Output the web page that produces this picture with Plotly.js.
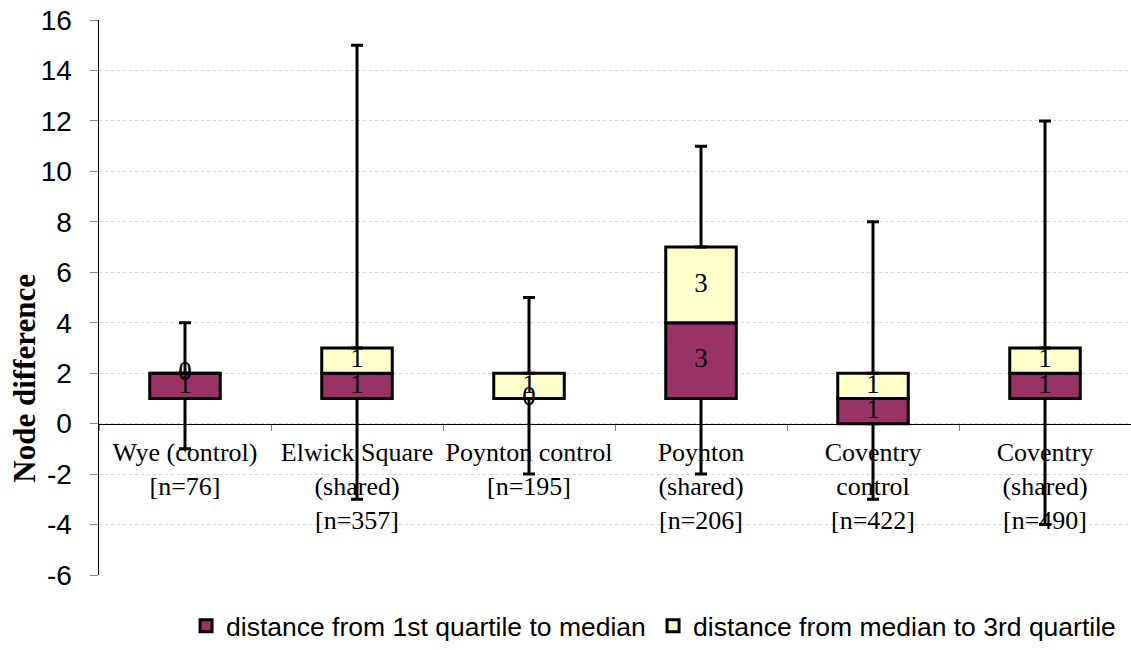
<!DOCTYPE html>
<html>
<head>
<meta charset="utf-8">
<script src="https://cdn.plot.ly/plotly-3.0.1.min.js"></script>
<style>
html,body{margin:0;padding:0;background:#fff;}
#chart{width:1131px;height:650px;}
</style>
</head>
<body>
<div id="chart"></div>
<script>
// Category tick labels
const categories = [
  "Wye (control)<br>[n=76]",
  "Elwick Square<br>(shared)<br>[n=357]",
  "Poynton control<br>[n=195]",
  "Poynton<br>(shared)<br>[n=206]",
  "Coventry<br>control<br>[n=422]",
  "Coventry<br>(shared)<br>[n=490]"
];
// Five-number summaries
const minimum  = [-1, -3, -2, -2, -3, -4];
const quartile1 = [1, 1, 1, 1, 0, 1];
const median   = [2, 2, 1, 4, 1, 2];
const quartile3 = [2, 3, 2, 7, 2, 3];
const maximum  = [4, 15, 5, 11, 8, 12];

// Y-axis tick values and labels (hyphen minus as in the original)
const yTickValues = [-6, -4, -2, 0, 2, 4, 6, 8, 10, 12, 14, 16];
const yTickLabels = ["-6", "-4", "-2", "0", "2", "4", "6", "8", "10", "12", "14", "16"];

const seriesNames = ["distance from 1st quartile to median", "distance from median to 3rd quartile"];

const lowerSpan = median.map((m, i) => m - quartile1[i]);
const upperSpan = quartile3.map((q, i) => q - median[i]);

const serif = "Liberation Serif, Times New Roman, serif";
const sans = "Liberation Sans, Arial, sans-serif";

const barLine = {color: "#000", width: 3};

const traces = [
  {
    type: "bar", name: seriesNames[0], x: categories, y: lowerSpan, base: quartile1,
    width: 0.41, marker: {color: "#993366", line: barLine}, hoverinfo: "skip"
  },
  {
    type: "bar", name: seriesNames[1], x: categories, y: upperSpan, base: median,
    width: 0.41, marker: {color: "#FFFFCC", line: barLine}, hoverinfo: "skip"
  },
  // upper whisker: from Q3 to max
  {
    type: "scatter", mode: "markers", x: categories, y: quartile3, showlegend: false,
    marker: {size: 1, opacity: 0}, hoverinfo: "skip", cliponaxis: false,
    error_y: {type: "data", symmetric: false, array: maximum.map((m, i) => m - quartile3[i]),
      arrayminus: quartile3.map(() => 0), color: "#000", thickness: 3, width: 6}
  },
  // lower whisker: from Q1 to min
  {
    type: "scatter", mode: "markers", x: categories, y: quartile1, showlegend: false,
    marker: {size: 1, opacity: 0}, hoverinfo: "skip", cliponaxis: false,
    error_y: {type: "data", symmetric: false, array: quartile1.map(() => 0),
      arrayminus: quartile1.map((q, i) => q - minimum[i]), color: "#000", thickness: 3, width: 6}
  },
  // value labels
  {
    type: "scatter", mode: "text", x: categories,
    y: quartile1.map((q, i) => (q + median[i]) / 2),
    text: lowerSpan.map(String), showlegend: false, hoverinfo: "skip", cliponaxis: false,
    textfont: {family: serif, size: 27, color: "#000"}, textposition: "middle center"
  },
  {
    type: "scatter", mode: "text", x: categories,
    y: median.map((m, i) => (m + quartile3[i]) / 2),
    text: upperSpan.map(String), showlegend: false, hoverinfo: "skip", cliponaxis: false,
    textfont: {family: serif, size: 27, color: "#000"}, textposition: "middle center"
  }
];

const yMin = -6, yMax = 16;

const layout = {
  width: 1131, height: 650,
  margin: {l: 99, r: 0, t: 20, b: 75},
  paper_bgcolor: "#fff", plot_bgcolor: "#fff",
  barmode: "overlay",
  showlegend: true,
  legend: {
    orientation: "h", xref: "container", yref: "container", x: 0.1645, y: 0.0,
    xanchor: "left", yanchor: "bottom",
    font: {family: sans, size: 26.5, color: "#000"}, traceorder: "normal",
    itemwidth: 30, entrywidth: 422, entrywidthmode: "pixels"
  },
  xaxis: {
    type: "category", anchor: "free", position: (0 - yMin) / (yMax - yMin),
    showline: true, linecolor: "#000", linewidth: 1.5,
    ticks: "outside", tickson: "boundaries", ticklen: 6, tickcolor: "#888", tickwidth: 1,
    ticklabelstandoff: 5,
    showgrid: false, zeroline: false, tickangle: 0,
    tickfont: {family: serif, size: 26, color: "#000"}
  },
  yaxis: {
    range: [yMin, yMax], tickmode: "array", tickvals: yTickValues, ticktext: yTickLabels,
    showline: true, linecolor: "#000", linewidth: 1.5,
    ticks: "outside", ticklen: 8, tickcolor: "#888", ticklabelstandoff: 12,
    showgrid: true, gridcolor: "#d0d0d0", griddash: "dot", gridwidth: 1,
    zeroline: false,
    tickfont: {family: sans, size: 28, color: "#000"}
  },
  annotations: [{
    text: "<b>Node difference</b>", textangle: -90,
    xref: "paper", yref: "paper", x: -0.072, y: 0.355, xanchor: "center", yanchor: "middle",
    showarrow: false, font: {family: serif, size: 31, color: "#000"}
  }]
};

Plotly.newPlot("chart", traces, layout, {displayModeBar: false, staticPlot: true});
</script>
</body>
</html>
